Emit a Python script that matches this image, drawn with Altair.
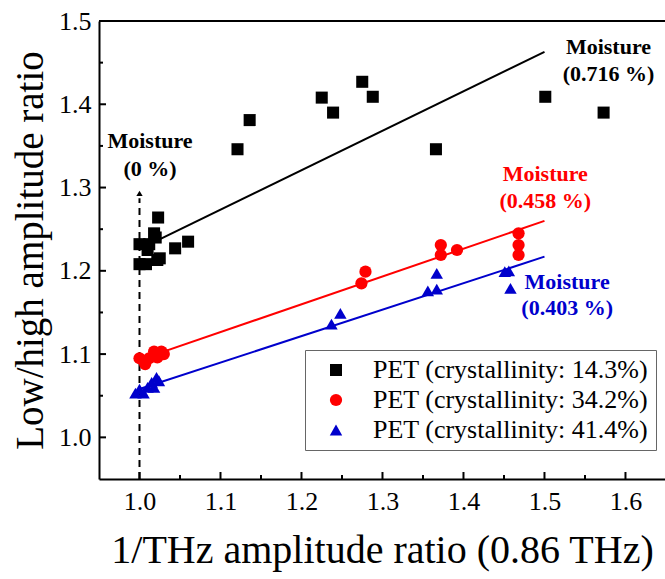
import altair as alt
import pandas as pd

# ---------------- data ----------------
SERIES = ["PET (crystallinity: 14.3%)", "PET (crystallinity: 34.2%)", "PET (crystallinity: 41.4%)"]
COLORS = ["#000000", "#ff0000", "#0000cc"]
SHAPES = ["square", "circle", "triangle-up"]
SIZES = [145, 155, 270]

x_143 = [1.000, 1.000, 1.008, 1.010, 1.012, 1.018, 1.020, 1.023, 1.022, 1.025, 1.044, 1.060,
         1.121, 1.136, 1.225, 1.239, 1.275, 1.288, 1.366, 1.501, 1.573]
y_143 = [1.232, 1.208, 1.208, 1.225, 1.232, 1.245, 1.240, 1.264, 1.213, 1.215, 1.227, 1.235,
         1.346, 1.381, 1.408, 1.390, 1.427, 1.409, 1.346, 1.409, 1.390]

x_342 = [1.000, 1.007, 1.012, 1.018, 1.022, 1.027, 1.030,
         1.274, 1.279, 1.372, 1.372, 1.392, 1.468, 1.468, 1.468]
y_342 = [1.095, 1.088, 1.095, 1.103, 1.096, 1.103, 1.100,
         1.185, 1.199, 1.219, 1.231, 1.225, 1.219, 1.231, 1.245]

x_414 = [0.995, 1.000, 1.005, 1.010, 1.015, 1.018, 1.021, 1.024,
         1.237, 1.248, 1.356, 1.367, 1.367, 1.451, 1.456, 1.458]
y_414 = [1.053, 1.058, 1.053, 1.060, 1.066, 1.060, 1.072, 1.068,
         1.136, 1.149, 1.176, 1.178, 1.197, 1.199, 1.200, 1.179]

fit_x = [1.0, 1.5]
fit_y = [[1.226, 1.463], [1.093, 1.260], [1.058, 1.217]]

arrow_x = [1.0, 1.0]
arrow_y = [0.95, 1.287]
arrow_head = [1.0, 1.293]

note_x = [1.013, 1.579, 1.501, 1.528]
note_y1 = [1.3555, 1.469, 1.316, 1.187]
note_y2 = [1.322, 1.436, 1.284, 1.155]
note_l1 = ["Moisture", "Moisture", "Moisture", "Moisture"]
note_l2 = ["(0 %)", "(0.716 %)", "(0.458 %)", "(0.403 %)"]
NOTE_COLORS = ["#000000", "#000000", "#ff0000", "#0000cc"]

x_major = [1.0, 1.1, 1.2, 1.3, 1.4, 1.5, 1.6]
x_minor = [1.05, 1.15, 1.25, 1.35, 1.45, 1.55]
y_major = [1.0, 1.1, 1.2, 1.3, 1.4, 1.5]
y_minor = [1.05, 1.15, 1.25, 1.35, 1.45]

X_DOMAIN = [0.95, 1.6488]
Y_DOMAIN = [0.95, 1.5]

W, H = 566, 458
FONT = "Liberation Serif"

# ---------------- scales ----------------
xs = alt.Scale(domain=X_DOMAIN, nice=False, zero=False)
ys = alt.Scale(domain=Y_DOMAIN, nice=False, zero=False)

xaxis = alt.Axis(values=x_major, format=".1f", title="1/THz amplitude ratio (0.86 THz)",
                 grid=False, ticks=False, domainColor="black", domainWidth=2,
                 labelFont=FONT, labelFontSize=26, labelColor="black", labelPadding=9,
                 titleFont=FONT, titleFontSize=40, titleFontWeight="normal", titleColor="black",
                 titlePadding=16, labelFlush=False)
yaxis = alt.Axis(values=y_major, format=".1f", title="Low/high amplitude ratio",
                 grid=False, ticks=False, domainColor="black", domainWidth=2,
                 labelFont=FONT, labelFontSize=26, labelColor="black", labelPadding=8,
                 titleFont=FONT, titleFontSize=39, titleFontWeight="normal", titleColor="black",
                 titlePadding=8, labelFlush=False)

rows = []
for name, xs_, ys_ in zip(SERIES, [x_143, x_342, x_414], [y_143, y_342, y_414]):
    for a, b in zip(xs_, ys_):
        rows.append({"x": a, "y": b, "series": name})
pts_df = pd.DataFrame(rows)

legend = alt.Legend(title=None, orient="none", legendX=206, legendY=329,
                    labelFont=FONT, labelFontSize=26, labelColor="black", labelLimit=500,
                    strokeColor="#666666", fillColor="white", padding=7, rowPadding=4,
                    symbolOffset=11, labelOffset=24, symbolSize=160, symbolStrokeWidth=0)

base_axes = alt.Chart(pts_df).mark_point(opacity=0).encode(
    x=alt.X("x:Q", scale=xs, axis=xaxis),
    y=alt.Y("y:Q", scale=ys, axis=yaxis),
)

layers = [base_axes]

# fit lines
for i, fy in enumerate(fit_y):
    df = pd.DataFrame({"x": fit_x, "y": fy})
    layers.append(alt.Chart(df).mark_line(color=COLORS[i], strokeWidth=2).encode(
        x=alt.X("x:Q", scale=xs), y=alt.Y("y:Q", scale=ys)))

# dashed arrow
arrow_df = pd.DataFrame({"x": arrow_x, "y": arrow_y})
layers.append(alt.Chart(arrow_df).mark_line(color="black", strokeWidth=2, strokeDash=[7, 5]).encode(
    x=alt.X("x:Q", scale=xs), y=alt.Y("y:Q", scale=ys)))
head_df = pd.DataFrame({"x": [arrow_head[0]], "y": [arrow_head[1]]})
layers.append(alt.Chart(head_df).mark_point(shape="triangle-up", filled=True, size=40,
                                            color="black", opacity=1).encode(
    x=alt.X("x:Q", scale=xs), y=alt.Y("y:Q", scale=ys)))

# points
layers.append(alt.Chart(pts_df).mark_point(filled=True, opacity=1).encode(
    x=alt.X("x:Q", scale=xs),
    y=alt.Y("y:Q", scale=ys),
    color=alt.Color("series:N", scale=alt.Scale(domain=SERIES, range=COLORS), legend=legend),
    shape=alt.Shape("series:N", scale=alt.Scale(domain=SERIES, range=SHAPES), legend=legend),
    size=alt.Size("series:N", scale=alt.Scale(domain=SERIES, range=SIZES), legend=None),
))

# annotations
for i in range(len(note_x)):
    df = pd.DataFrame({"x": [note_x[i], note_x[i]], "y": [note_y1[i], note_y2[i]],
                       "t": [note_l1[i], note_l2[i]]})
    layers.append(alt.Chart(df).mark_text(font=FONT, fontWeight="bold", fontSize=22,
                                          color=NOTE_COLORS[i], align="center",
                                          baseline="middle").encode(
        x=alt.X("x:Q", scale=xs), y=alt.Y("y:Q", scale=ys), text="t:N"))

# inward ticks
xt_major = pd.DataFrame({"v": x_major})
xt_minor = pd.DataFrame({"v": x_minor})
yt_major = pd.DataFrame({"v": y_major})
yt_minor = pd.DataFrame({"v": y_minor})
layers.append(alt.Chart(xt_major).mark_rule(color="black", strokeWidth=2).encode(
    x=alt.X("v:Q", scale=xs), y=alt.value(H), y2=alt.value(H - 7)))
layers.append(alt.Chart(xt_minor).mark_rule(color="black", strokeWidth=2).encode(
    x=alt.X("v:Q", scale=xs), y=alt.value(H), y2=alt.value(H - 4)))
layers.append(alt.Chart(yt_major).mark_rule(color="black", strokeWidth=2).encode(
    y=alt.Y("v:Q", scale=ys), x=alt.value(0), x2=alt.value(7)))
layers.append(alt.Chart(yt_minor).mark_rule(color="black", strokeWidth=2).encode(
    y=alt.Y("v:Q", scale=ys), x=alt.value(0), x2=alt.value(4)))

# top frame line
top_df = pd.DataFrame({"k": [0]})
layers.append(alt.Chart(top_df).mark_rule(color="black", strokeWidth=2).encode(
    x=alt.value(0), x2=alt.value(W), y=alt.value(0)))

chart = alt.layer(*layers).properties(
    width=W, height=H,
    autosize=alt.AutoSizeParams(type="none"),
    padding={"left": 99, "top": 21, "right": 0, "bottom": 100},
    background="white",
).configure_view(stroke=None)

chart.save("out.html", embed_options={"renderer": "svg", "actions": False})
